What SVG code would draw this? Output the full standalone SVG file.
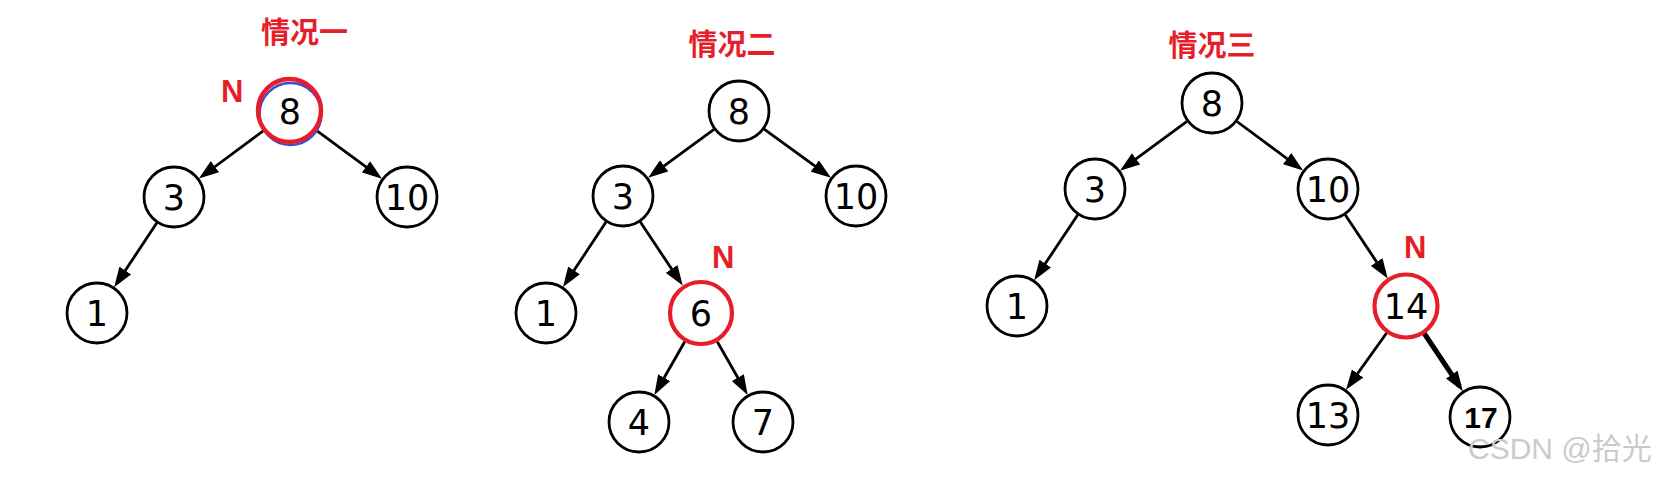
<svg xmlns="http://www.w3.org/2000/svg" width="1669" height="480" viewBox="0 0 1669 480">
<defs>
<style>
.nd{fill:#fff;stroke:#000;stroke-width:2.8}
.lb{font-family:"DejaVu Sans",sans-serif;font-size:35px;fill:#000;text-anchor:middle}
.ttl{font-family:"Noto Sans CJK SC",sans-serif;font-weight:bold;font-size:29px;fill:#e61e2a;text-anchor:middle}
.nn{font-family:"Liberation Sans",Arial,sans-serif;font-weight:bold;font-size:31px;fill:#e61e2a}
.e{stroke:#000;stroke-width:2.8;fill:none;marker-end:url(#ah)}
.eb{stroke:#000;stroke-width:5;fill:none;marker-end:url(#ah)}
</style>
<marker id="ah" markerUnits="userSpaceOnUse" markerWidth="20" markerHeight="14" refX="14" refY="7" orient="auto">
<path d="M0,0 L20,7 L0,14 z" fill="#000"/>
</marker>
</defs>
<rect width="1669" height="480" fill="#fff"/>

<g id="titles">
<text class="ttl" x="304.5" y="43">情况一</text>
<text class="ttl" x="732" y="55">情况二</text>
<text class="ttl" x="1212" y="56">情况三</text>
</g>

<g id="connectors">
<line class="e" x1="265.1" y1="129.5" x2="203.7" y2="175.0"/>
<line class="e" x1="315.0" y1="129.4" x2="377.2" y2="175.1"/>
<line class="e" x1="156.9" y1="222.8" x2="117.5" y2="282.2"/>

<line class="e" x1="714.0" y1="129.3" x2="652.9" y2="174.1"/>
<line class="e" x1="764.1" y1="129.2" x2="826.1" y2="174.2"/>
<line class="e" x1="606.0" y1="221.9" x2="566.3" y2="282.1"/>
<line class="e" x1="640.2" y1="221.8" x2="679.4" y2="280.6"/>
<line class="e" x1="684.7" y1="341.7" x2="657.3" y2="389.8"/>
<line class="e" x1="717.3" y1="341.7" x2="744.7" y2="389.8"/>

<line class="e" x1="1187.0" y1="121.4" x2="1124.8" y2="167.1"/>
<line class="e" x1="1236.9" y1="121.5" x2="1298.3" y2="167.0"/>
<line class="e" x1="1077.8" y1="214.8" x2="1037.5" y2="275.2"/>
<line class="e" x1="1345.2" y1="214.8" x2="1384.4" y2="273.6"/>
<line class="e" x1="1386.8" y1="332.8" x2="1349.5" y2="384.9"/>
<line class="eb" x1="1424.3" y1="333.5" x2="1459.5" y2="386.2"/>
</g>

<g id="t1-n8">
<circle cx="290.5" cy="114" r="31" fill="#fff" stroke="#3a4bd6" stroke-width="2.5"/>
<circle cx="289.5" cy="110.5" r="31.5" fill="none" stroke="#e61e2a" stroke-width="4.5"/>
<text class="lb" x="290" y="124">8</text>
</g>
<g id="t1-N"><text class="nn" x="221" y="102">N</text></g>
<g id="t1-n3"><circle class="nd" cx="174" cy="197" r="30"/><text class="lb" x="174" y="210">3</text></g>
<g id="t1-n10"><circle class="nd" cx="407" cy="197" r="30"/><text class="lb" x="407" y="210">10</text></g>
<g id="t1-n1"><circle class="nd" cx="97" cy="313" r="30"/><text class="lb" x="97" y="326">1</text></g>

<g id="t2-n8"><circle class="nd" cx="739" cy="111" r="30"/><text class="lb" x="739" y="124">8</text></g>
<g id="t2-n3"><circle class="nd" cx="623" cy="196" r="30"/><text class="lb" x="623" y="209">3</text></g>
<g id="t2-n10"><circle class="nd" cx="856" cy="196" r="30"/><text class="lb" x="856" y="209">10</text></g>
<g id="t2-n1"><circle class="nd" cx="546" cy="313" r="30"/><text class="lb" x="546" y="326">1</text></g>
<g id="t2-n6"><circle cx="701" cy="313" r="31" fill="#fff" stroke="#e61e2a" stroke-width="4.2"/><text class="lb" x="701" y="326">6</text></g>
<g id="t2-N"><text class="nn" x="712" y="268">N</text></g>
<g id="t2-n4"><circle class="nd" cx="639" cy="422" r="30"/><text class="lb" x="639" y="435">4</text></g>
<g id="t2-n7"><circle class="nd" cx="763" cy="422" r="30"/><text class="lb" x="763" y="435">7</text></g>

<g id="t3-n8"><circle class="nd" cx="1212" cy="103" r="30"/><text class="lb" x="1212" y="116">8</text></g>
<g id="t3-n3"><circle class="nd" cx="1095" cy="189" r="30"/><text class="lb" x="1095" y="202">3</text></g>
<g id="t3-n10"><circle class="nd" cx="1328" cy="189" r="30"/><text class="lb" x="1328" y="202">10</text></g>
<g id="t3-n1"><circle class="nd" cx="1017" cy="306" r="30"/><text class="lb" x="1017" y="319">1</text></g>
<g id="t3-n14"><circle cx="1406" cy="306" r="31.5" fill="#fff" stroke="#e61e2a" stroke-width="4.2"/><text class="lb" x="1406" y="319">14</text></g>
<g id="t3-N"><text class="nn" x="1404" y="258">N</text></g>
<g id="t3-n13"><circle class="nd" cx="1328" cy="415" r="30"/><text class="lb" x="1328" y="428">13</text></g>
<g id="t3-n17"><circle class="nd" cx="1480" cy="417" r="30"/><text x="1481" y="428" font-family="Liberation Sans, Arial, sans-serif" font-weight="bold" font-size="30" text-anchor="middle" fill="#000">17</text></g>

<text x="1468" y="459" font-family="Liberation Sans, Noto Sans CJK SC, sans-serif" font-size="30" fill="#cbcbcb">CSDN @拾光</text>
</svg>
